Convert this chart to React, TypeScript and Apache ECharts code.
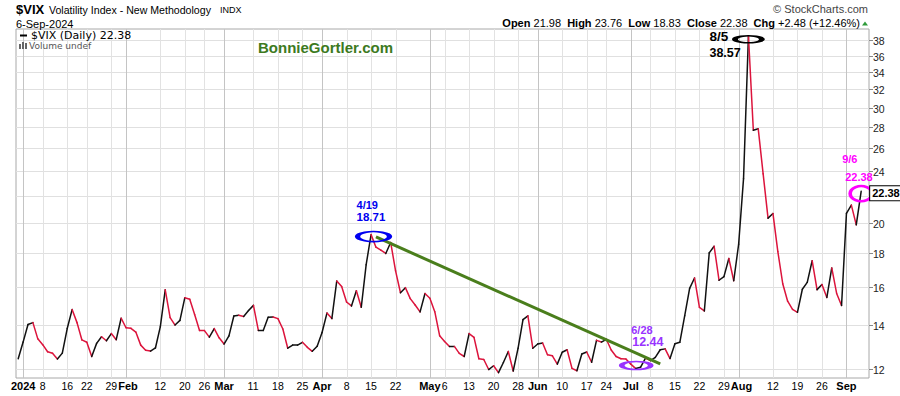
import React, { useEffect, useRef } from "react";
import * as echarts from "echarts";

// ---------- DATA ----------
const monthKeys = ["2023-12", "2024-01", "2024-02", "2024-03", "2024-04", "2024-05", "2024-06", "2024-07", "2024-08", "2024-09"];

const daysDec = [29];
const daysJan = [2, 3, 4, 5, 8, 9, 10, 11, 12, 16, 17, 18, 19, 22, 23, 24, 25, 26, 29, 30, 31];
const daysFeb = [1, 2, 5, 6, 7, 8, 9, 12, 13, 14, 15, 16, 20, 21, 22, 23, 26, 27, 28, 29];
const daysMar = [1, 4, 5, 6, 7, 8, 11, 12, 13, 14, 15, 18, 19, 20, 21, 22, 25, 26, 27, 28];
const daysApr = [1, 2, 3, 4, 5, 8, 9, 10, 11, 12, 15, 16, 17, 18, 19, 22, 23, 24, 25, 26, 29, 30];
const daysMay = [1, 2, 3, 6, 7, 8, 9, 10, 13, 14, 15, 16, 17, 20, 21, 22, 23, 24, 28, 29, 30, 31];
const daysJun = [3, 4, 5, 6, 7, 10, 11, 12, 13, 14, 17, 18, 20, 21, 24, 25, 26, 27, 28];
const daysJul = [1, 2, 3, 5, 8, 9, 10, 11, 12, 15, 16, 17, 18, 19, 22, 23, 24, 25, 26, 29, 30, 31];
const daysAug = [1, 2, 5, 6, 7, 8, 9, 12, 13, 14, 15, 16, 19, 20, 21, 22, 23, 26, 27, 28, 29, 30];
const daysSep = [3, 4, 5, 6];

const closesDec = [12.45];
const closesJan = [13.2, 14.04, 14.13, 13.35, 13.08, 12.76, 12.69, 12.44, 12.7, 13.84, 14.79, 14.13, 13.3, 13.19, 12.55, 13.14, 13.45, 13.26, 13.6, 13.31, 14.35];
const closesFeb = [13.88, 13.85, 13.67, 13.06, 12.83, 12.79, 12.93, 13.93, 15.85, 14.38, 14.01, 14.24, 15.42, 15.34, 14.54, 13.75, 13.74, 13.43, 13.84, 13.4];
const closesMar = [13.11, 13.49, 14.46, 14.5, 14.44, 14.74, 15.01, 13.75, 13.75, 14.4, 14.41, 14.33, 13.82, 12.92, 13.06, 13.06, 13.19, 12.96, 12.78, 13.01];
const closesApr = [13.65, 14.61, 14.33, 16.35, 16.03, 15.19, 14.98, 15.8, 14.91, 17.31, 19.23, 18.4, 18.21, 18.0, 18.71, 16.94, 15.69, 15.97, 15.37, 15.03, 14.67, 15.65];
const closesMay = [15.39, 14.68, 13.49, 13.23, 13.0, 13.0, 12.69, 12.55, 13.6, 13.42, 12.45, 12.42, 11.99, 12.15, 11.86, 12.29, 12.77, 11.93, 12.92, 14.28, 14.47, 12.92];
const closesJun = [13.11, 13.16, 12.63, 12.58, 12.22, 12.74, 12.85, 12.04, 11.94, 12.66, 12.75, 12.3, 13.28, 13.2, 13.33, 12.84, 12.55, 12.45, 12.44];
const closesJul = [12.22, 12.03, 12.09, 12.48, 12.37, 12.51, 12.85, 12.89, 12.46, 13.12, 13.19, 14.48, 15.93, 16.52, 14.91, 14.72, 18.04, 18.46, 16.39, 16.6, 17.69, 16.36];
const closesAug = [18.59, 23.39, 38.57, 27.71, 27.85, 23.79, 20.37, 20.71, 18.12, 16.19, 15.23, 14.8, 14.65, 15.88, 16.27, 17.55, 15.86, 16.15, 15.43, 17.11, 15.65, 15.0];
const closesSep = [20.72, 21.32, 19.9, 22.38];

const monthDays = [daysDec, daysJan, daysFeb, daysMar, daysApr, daysMay, daysJun, daysJul, daysAug, daysSep];
const monthCloses = [closesDec, closesJan, closesFeb, closesMar, closesApr, closesMay, closesJun, closesJul, closesAug, closesSep];

const xTickDates = [
  "2024-01-02", "2024-01-08", "2024-01-16", "2024-01-22", "2024-01-29", "2024-02-01", "2024-02-12", "2024-02-20", "2024-02-26",
  "2024-03-01", "2024-03-11", "2024-03-18", "2024-03-25", "2024-04-01", "2024-04-08", "2024-04-15", "2024-04-22", "2024-05-01",
  "2024-05-06", "2024-05-13", "2024-05-20", "2024-05-28", "2024-06-03", "2024-06-10", "2024-06-17", "2024-06-24", "2024-07-01",
  "2024-07-08", "2024-07-15", "2024-07-22", "2024-07-29", "2024-08-01", "2024-08-12", "2024-08-19", "2024-08-26", "2024-09-03",
];
const xTickLabels = [
  "2024", "8", "16", "22", "29", "Feb", "12", "20", "26", "Mar", "11", "18", "25", "Apr", "8", "15", "22", "May",
  "6", "13", "20", "28", "Jun", "10", "17", "24", "Jul", "8", "15", "22", "29", "Aug", "12", "19", "26", "Sep",
];
const xMajorLabels = ["2024", "Feb", "Mar", "Apr", "May", "Jun", "Jul", "Aug", "Sep"];
const yTickValues = [12, 14, 16, 18, 20, 22, 24, 26, 28, 30, 32, 34, 36, 38];

const trendDates = ["2024-04-16", "2024-07-10"];
const trendValues = [19.07, 12.23];

const ohlcNames = ["Open", "High", "Low", "Close", "Chg"];
const ohlcValues = ["21.98", "23.76", "18.83", "22.38", "+2.48 (+12.46%)"];
const lastClose = 22.38;

// annotations: circle anchored on a date (+ day shift) and a value
const annotations = [
  { date: "2024-04-15", shift: 0.5, value: 19.1, color: "#0000f0", size: [32, 10], texts: [
    { text: "4/19", dx: -17, dy: -32, fs: 11 }, { text: "18.71", dx: -17, dy: -20, fs: 11.5 } ] },
  { date: "2024-08-05", shift: 0, value: 38.1, color: "#000000", size: [27, 7], texts: [
    { text: "8/5", dx: -39, dy: -3, fs: 13.5 }, { text: "38.57", dx: -39, dy: 14, fs: 12.5 } ] },
  { date: "2024-07-01", shift: 1.1, value: 12.16, color: "#9933ff", size: [29, 8], texts: [
    { text: "6/28", dx: -5, dy: -36, fs: 11 }, { text: "12.44", dx: -4, dy: -24, fs: 12.5 } ] },
  { date: "2024-09-06", shift: 0, value: 22.2, color: "#ff00ff", size: [22, 15], texts: [
    { text: "9/6", dx: -19, dy: -35, fs: 11 }, { text: "22.38", dx: -16, dy: -17, fs: 11 } ] },
];

// ---------- BUILD ----------
const tradingDays: string[] = [];
const closes: number[] = [];
monthKeys.forEach((m, k) => {
  monthDays[k].forEach((d, j) => {
    tradingDays.push(`${m}-${String(d).padStart(2, "0")}`);
    closes.push(monthCloses[k][j]);
  });
});
const idxOf = (d: string) => tradingDays.indexOf(d);

const FONT = "'Liberation Sans', Arial, Helvetica, sans-serif";
const FONT2 = "'DejaVu Sans', Verdana, sans-serif";
const UP = "#111111";
const DOWN = "#dc143c";

// approximate Arial advance widths (em) for tick label layout
const CHAR_W: Record<string, number> = {
  F: 0.611, e: 0.556, b: 0.611, M: 0.833, a: 0.556, r: 0.389, A: 0.722, p: 0.611, y: 0.556,
  J: 0.556, u: 0.611, n: 0.611, l: 0.278, g: 0.611, S: 0.667,
};
const NUM_FS = 10.5;
const MAJ_FS = 11;
function labelWidth(s: string, major: boolean) {
  const fs = major ? MAJ_FS : NUM_FS;
  let w = 0;
  for (const c of s) w += /[0-9]/.test(c) ? 0.556 : CHAR_W[c] ?? 0.6;
  return w * fs;
}

function buildOption(): any {
  const last = closes.length - 1;
  return {
    animation: false,
    backgroundColor: "#ffffff",
    grid: { left: 16, right: 31, top: 29, bottom: 18, show: true, borderColor: "#a8a8a8", borderWidth: 1, backgroundColor: "#fff" },
    xAxis: { type: "value", min: -0.45, max: 173.6, show: false },
    yAxis: { type: "log", logBase: 10, min: 11.64, max: 39.5, show: false, position: "right" },
    graphic: [
      { type: "text", x: 16, y: 9, style: { text: "$VIX", fontSize: 13, fontWeight: "bold", fontFamily: FONT, fill: "#000", verticalAlign: "middle" } },
      { type: "text", x: 49, y: 9.5, style: { text: "Volatility Index - New Methodology", fontSize: 10.6, fontFamily: FONT, fill: "#000", verticalAlign: "middle" } },
      { type: "text", x: 220, y: 10, style: { text: "INDX", fontSize: 9, fontFamily: FONT, fill: "#000", verticalAlign: "middle" } },
      { type: "text", x: 16, y: 23.5, style: { text: "6-Sep-2024", fontSize: 11, fontFamily: FONT, fill: "#000", verticalAlign: "middle" } },
      { type: "text", x: 868, y: 9, style: { text: "© StockCharts.com", fontSize: 11, fontFamily: FONT, fill: "#444", align: "right", verticalAlign: "middle" } },
      {
        type: "text", x: 860, y: 22.5,
        style: {
          text: ohlcNames.map((nm, i) => `{b|${nm}} ${ohlcValues[i]}`).join("  "),
          fontSize: 11, fontFamily: FONT, fill: "#000", align: "right", verticalAlign: "middle",
          rich: { b: { fontWeight: "bold", fontSize: 11, fontFamily: FONT, fill: "#000" } },
        },
      },
      { type: "polygon", shape: { points: [[862, 25.5], [868, 25.5], [865, 21.5]] }, style: { fill: "#2e9b3a" } },
      { type: "line", shape: { x1: 20, y1: 35.5, x2: 27, y2: 35.5 }, style: { stroke: "#000", lineWidth: 2 }, z: 20 },
      { type: "text", x: 31, y: 35.5, z: 20, style: { text: "$VIX (Daily) 22.38", fontSize: 11, fontFamily: FONT2, fill: "#000", verticalAlign: "middle" } },
      { type: "rect", shape: { x: 19, y: 44, width: 2, height: 5 }, style: { fill: "#666" }, z: 20 },
      { type: "rect", shape: { x: 22, y: 42, width: 2, height: 7 }, style: { fill: "#666" }, z: 20 },
      { type: "rect", shape: { x: 25, y: 43, width: 2, height: 6 }, style: { fill: "#666" }, z: 20 },
      { type: "text", x: 29, y: 46, z: 20, style: { text: "Volume undef", fontSize: 9, fontFamily: FONT2, fill: "#555", verticalAlign: "middle" } },
      { type: "text", x: 258, y: 47.5, z: 20, style: { text: "BonnieGortler.com", fontSize: 15, fontWeight: "bold", fontFamily: FONT, fill: "#3d7a1e", verticalAlign: "middle" } },
    ],
    series: [
      {
        type: "custom", name: "yTicks", z: 1, silent: true, clip: false,
        data: yTickValues.map((v) => [0, v]),
        renderItem: (params: any, api: any) => {
          const cs = params.coordSys;
          const v = api.value(1);
          const y = Math.round(api.coord([0, v])[1]) + 0.5;
          const yLast = api.coord([0, lastClose])[1];
          const right = cs.x + cs.width;
          const children: any[] = [
            { type: "line", shape: { x1: cs.x, y1: y, x2: right, y2: y }, style: { stroke: "#e0e0e0", lineWidth: 1 } },
            { type: "line", shape: { x1: right, y1: y, x2: right + 4, y2: y }, style: { stroke: "#888", lineWidth: 1 } },
          ];
          if (Math.abs(y - yLast) > 9) {
            children.push({ type: "text", x: right + 4, y: y, style: { text: String(v), fill: "#222", fontSize: 10.5, fontFamily: FONT, align: "left", verticalAlign: "middle" } });
          }
          return { type: "group", children };
        },
      },
      {
        type: "custom", name: "xTicks", z: 1, silent: true, clip: false,
        data: xTickDates.map((d) => [idxOf(d), 20]),
        renderItem: (params: any, api: any) => {
          const cs = params.coordSys;
          const k = params.dataIndex;
          // lay labels out left to right, pushing a label right when it would collide with the previous one
          let prevRight = cs.x - 6;
          let left = 0;
          for (let j = 0; j <= k; j++) {
            const lab = xTickLabels[j];
            const w = labelWidth(lab, xMajorLabels.includes(lab));
            const cx = api.coord([idxOf(xTickDates[j]), 20])[0];
            left = Math.max(cx - w / 2, prevRight + 1);
            prevRight = left + w;
          }
          const label = xTickLabels[k];
          const major = xMajorLabels.includes(label);
          const x = Math.round(api.coord([api.value(0), 20])[0]) + 0.5;
          return {
            type: "group",
            children: [
              { type: "line", shape: { x1: x, y1: cs.y, x2: x, y2: cs.y + cs.height }, style: { stroke: major ? "#c4c4c4" : "#e2e2e2", lineWidth: 1 } },
              { type: "text", x: left, y: cs.y + cs.height + 8, style: { text: label, fill: "#000", fontSize: major ? MAJ_FS : NUM_FS, fontWeight: major ? "bold" : "normal", fontFamily: FONT, align: "left", verticalAlign: "middle" } },
            ],
          };
        },
      },
      {
        type: "custom", name: "$VIX", z: 5, silent: true,
        data: closes.map((v, i) => [i, v]),
        renderItem: (params: any, api: any) => {
          const i = params.dataIndex;
          if (i === 0) return null;
          const p0 = api.coord([i - 1, closes[i - 1]]);
          const p1 = api.coord([i, closes[i]]);
          return {
            type: "line",
            shape: { x1: p0[0], y1: p0[1], x2: p1[0], y2: p1[1] },
            style: { stroke: closes[i] >= closes[i - 1] ? UP : DOWN, lineWidth: 1.5, lineCap: "round" },
          };
        },
      },
      {
        type: "line", name: "trend", z: 6, silent: true, symbol: "none",
        data: trendDates.map((d, i) => [idxOf(d), trendValues[i]]),
        lineStyle: { color: "#4a7e1c", width: 3 },
      },
      {
        type: "scatter", name: "circles", z: 7, silent: true, symbol: "circle",
        data: annotations.map((a) => ({
          value: [idxOf(a.date) + a.shift, a.value],
          symbolSize: a.size,
          itemStyle: { color: "rgba(0,0,0,0)", borderColor: a.color, borderWidth: 3, opacity: 1 },
        })),
      },
      {
        type: "scatter", name: "notes", z: 8, silent: true, symbolSize: 1,
        itemStyle: { color: "rgba(0,0,0,0)", opacity: 1 },
        data: annotations.flatMap((a) =>
          a.texts.map((t) => ({
            value: [idxOf(a.date) + a.shift, a.value],
            label: {
              show: true, formatter: t.text, position: "inside", align: "left", verticalAlign: "middle",
              offset: [t.dx, t.dy], color: a.color, opacity: 1, fontSize: t.fs, fontWeight: "bold", fontFamily: FONT,
            },
          }))
        ),
      },
      {
        type: "scatter", name: "lastTag", z: 10, silent: true, symbolSize: 1,
        itemStyle: { color: "rgba(0,0,0,0)", opacity: 1 },
        data: [{
          value: [last, lastClose],
          label: {
            show: true, formatter: lastClose.toFixed(2), position: "inside", align: "left", verticalAlign: "middle",
            offset: [9, 2], color: "#000", opacity: 1, fontSize: 11, fontWeight: "bold", fontFamily: FONT,
            backgroundColor: "#fff", borderColor: "#000", borderWidth: 1, padding: [2, 2, 1, 2],
          },
        }],
      },
    ],
  };
}

export default function App() {
  const ref = useRef<HTMLDivElement>(null);
  useEffect(() => {
    document.body.style.margin = "0";
    const chart = echarts.init(ref.current as HTMLDivElement, undefined, { renderer: "svg" });
    chart.setOption(buildOption());
    return () => chart.dispose();
  }, []);
  return <div ref={ref} style={{ width: 900, height: 396 }} />;
}
